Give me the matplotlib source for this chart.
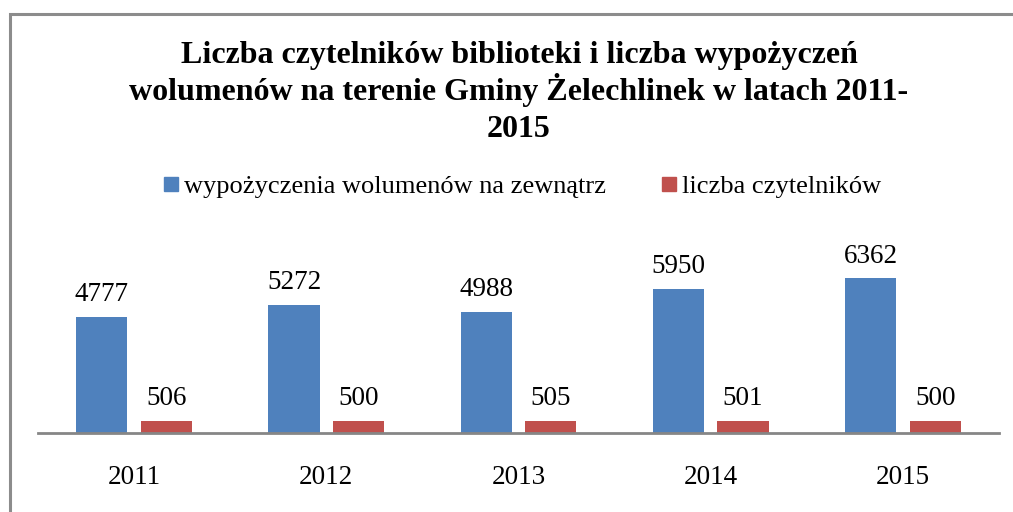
import numpy as np
import matplotlib.pyplot as plt
from matplotlib.patches import Rectangle
from matplotlib.lines import Line2D

years = ['2011', '2012', '2013', '2014', '2015']
loans = [4777, 5272, 4988, 5950, 6362]
readers = [506, 500, 505, 501, 500]
series_names = ['wypożyczenia wolumenów na zewnątrz', 'liczba czytelników']
colors = ['#4F81BD', '#C0504D']
title = ('Liczba czytelników biblioteki i liczba wypożyczeń\n'
         'wolumenów na terenie Gminy Żelechlinek w latach 2011-\n2015')

plt.rcParams['font.family'] = ['Liberation Serif', 'DejaVu Serif']

W, H = 1013, 512
fig = plt.figure(figsize=(W / 100, H / 100), dpi=100)

# outer chart border (right and bottom edges fall outside the image)
fig.patches.append(Rectangle((9.5 / W, -0.2), 1.2, 1 - 13.5 / H + 0.2,
                             transform=fig.transFigure, fill=False,
                             edgecolor='#8c8c8c', linewidth=2.2))

ax = fig.add_axes([38 / W, (H - 433) / H, 961 / W, 170 / H])
x = np.arange(len(years))
bw = 0.266
off = 0.168
b1 = ax.bar(x - off, loans, bw, color=colors[0])
b2 = ax.bar(x + off, readers, bw, color=colors[1])
ax.bar_label(b1, padding=7, fontsize=19.5)
ax.bar_label(b2, padding=7, fontsize=19.5)

ax.set_xlim(-0.5, len(years) - 0.5)
ax.set_ylim(0, 7000)
ax.set_xticks(x)
ax.set_xticklabels(years, fontsize=19.5)
ax.tick_params(axis='x', length=0, pad=23)
ax.set_yticks([])
for s in ['top', 'right', 'left']:
    ax.spines[s].set_visible(False)
ax.spines['bottom'].set_color('#868686')
ax.spines['bottom'].set_linewidth(2)

# title baseline of first line sits at about y=63 px
fig.text(519 / W, 1 - 63 / H, title.split('\n')[0], ha='center',
         va='baseline', fontsize=23, fontweight='bold')
fig.text(519 / W, 1 - 100 / H, title.split('\n')[1], ha='center',
         va='baseline', fontsize=23, fontweight='bold')
fig.text(519 / W, 1 - 137 / H, title.split('\n')[2], ha='center',
         va='baseline', fontsize=23, fontweight='bold')

handles = [Line2D([], [], marker='s', linestyle='', markersize=9.4,
                  color=c) for c in colors]
fig.legend(handles, series_names, loc='center', ncol=2,
           bbox_to_anchor=(522 / W, 1 - 186 / H), frameon=False,
           fontsize=19, handletextpad=0.2, columnspacing=2.1,
           handlelength=0.6)

fig.savefig('out.png', dpi=100)
